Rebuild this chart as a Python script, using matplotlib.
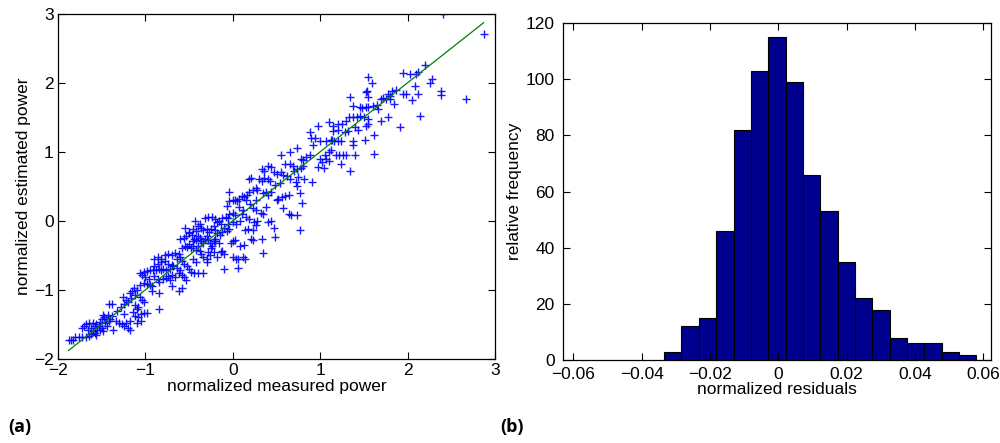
import numpy as np
import matplotlib
matplotlib.use("Agg")
import matplotlib.pyplot as plt

plt.rcParams['font.family'] = ['Liberation Sans', 'DejaVu Sans']

# (a) scatter: normalized measured vs estimated power
scatter_pts = [
    (-1.87, -1.72), (-1.85, -1.72), (-1.83, -1.72), (-1.80, -1.68), (-1.76, -1.68), (-1.72, -1.68),
    (-1.68, -1.68), (-1.65, -1.67), (-1.62, -1.64), (-1.60, -1.60), (-1.58, -1.62), (-1.56, -1.65),
    (-1.55, -1.58), (-1.52, -1.58), (-1.50, -1.55), (-1.48, -1.60), (-1.53, -1.52), (-1.56, -1.50),
    (-1.60, -1.48), (-1.64, -1.48), (-1.68, -1.50), (-1.70, -1.52), (-1.72, -1.55), (-1.66, -1.58),
    (-1.62, -1.55), (-1.58, -1.53), (-1.46, -1.48), (-1.44, -1.52), (-1.42, -1.45), (-1.45, -1.42),
    (-1.47, -1.40), (-1.50, -1.43), (-1.52, -1.46), (-1.48, -1.36), (-1.43, -1.36), (-1.40, -1.42),
    (-1.38, -1.38), (-1.34, -1.45), (-1.30, -1.48), (-1.37, -1.58), (-1.42, -1.21), (-1.38, -1.21),
    (-1.32, -1.30), (-1.28, -1.25), (-1.25, -1.35), (-1.24, -1.20), (-1.22, -1.15), (-1.20, -1.18),
    (-1.26, -1.10), (-1.18, -1.05), (-1.15, -1.02), (-1.13, -0.98), (-1.10, -1.00), (-1.12, -1.08),
    (-1.16, -1.12), (-1.12, -1.22), (-1.10, -1.28), (-1.08, -1.25), (-1.14, -1.32), (-1.12, -1.38),
    (-1.08, -1.40), (-1.05, -1.35), (-1.02, -1.33), (-0.98, -1.33), (-1.05, -1.45), (-1.10, -1.48),
    (-1.18, -1.45), (-1.22, -1.48), (-1.24, -1.52), (-1.20, -1.55), (-1.18, -1.58), (-1.27, -1.50),
    (-1.04, -1.15), (-1.06, -1.10), (-1.02, -1.18),
    (-1.06, -0.93), (-1.02, -0.90), (-0.98, -0.92), (-0.95, -0.93), (-0.92, -0.95), (-0.92, -1.02),
    (-0.85, -1.05), (-0.96, -0.85), (-1.00, -0.82), (-1.04, -0.78), (-1.06, -0.75), (-1.02, -0.74),
    (-0.98, -0.73), (-0.95, -0.72), (-0.91, -0.72), (-0.88, -0.71), (-0.85, -0.70), (-0.82, -0.72),
    (-0.80, -0.70), (-0.90, -0.80), (-0.86, -0.84), (-0.84, -0.88), (-0.80, -0.85), (-0.76, -0.83),
    (-0.74, -0.80), (-0.70, -0.78), (-0.72, -0.86), (-0.66, -0.82), (-0.62, -0.75), (-0.60, -0.72),
    (-0.58, -0.78), (-0.56, -0.82), (-0.54, -0.86), (-0.58, -0.98), (-0.62, -1.02), (-0.70, -0.95),
    (-0.84, -1.28), (-0.90, -0.65), (-0.86, -0.62), (-0.82, -0.60), (-0.78, -0.58), (-0.74, -0.62),
    (-0.70, -0.64), (-0.68, -0.66), (-0.64, -0.68), (-0.72, -0.70), (-0.76, -0.72), (-0.90, -0.55),
    (-0.86, -0.52), (-0.82, -0.55), (-0.78, -0.50), (-0.74, -0.48), (-0.70, -0.50), (-0.66, -0.46),
    (-0.62, -0.48), (-0.60, -0.52), (-0.64, -0.55), (-0.58, -0.58), (-0.56, -0.62), (-0.52, -0.66),
    (-0.50, -0.70), (-0.48, -0.74), (-0.44, -0.76), (-0.40, -0.75), (-0.34, -0.75), (-0.42, -0.60),
    (-0.46, -0.55),
    (-0.58, -0.40), (-0.55, -0.36), (-0.52, -0.38), (-0.50, -0.34), (-0.48, -0.40), (-0.45, -0.36),
    (-0.42, -0.42), (-0.40, -0.36), (-0.38, -0.44), (-0.36, -0.48), (-0.34, -0.52), (-0.30, -0.55),
    (-0.26, -0.50), (-0.30, -0.60), (-0.60, -0.27), (-0.56, -0.25), (-0.54, -0.22), (-0.50, -0.18),
    (-0.47, -0.20), (-0.44, -0.26), (-0.46, -0.30), (-0.42, -0.28), (-0.40, -0.22), (-0.38, -0.25),
    (-0.36, -0.30), (-0.34, -0.32), (-0.32, -0.26), (-0.30, -0.22), (-0.28, -0.28), (-0.26, -0.32),
    (-0.24, -0.36), (-0.22, -0.30), (-0.20, -0.26), (-0.55, -0.10), (-0.50, -0.16), (-0.45, -0.12),
    (-0.42, -0.15), (-0.40, -0.08), (-0.38, -0.05), (-0.36, -0.10), (-0.34, -0.14), (-0.30, -0.12),
    (-0.27, -0.16), (-0.25, -0.12), (-0.22, -0.08), (-0.20, -0.14), (-0.18, -0.18), (-0.15, -0.20),
    (-0.12, -0.16), (-0.10, -0.10), (-0.43, 0.00), (-0.32, 0.04), (-0.28, 0.05), (-0.24, 0.06),
    (-0.20, 0.02), (-0.18, -0.02), (-0.16, 0.00), (-0.14, -0.05), (-0.12, 0.04), (-0.08, 0.05),
    (-0.05, 0.04), (-0.20, -0.30), (-0.16, -0.32), (-0.14, -0.45), (-0.12, -0.44), (-0.10, -0.48),
    (-0.18, -0.52), (-0.10, -0.70), (-0.05, -0.05), (-0.04, -0.12), (-0.07, -0.15), (-0.25, -0.40),
    (-0.22, -0.45), (-0.28, -0.45),
    (-0.04, 0.28), (0.00, 0.30), (0.02, 0.30), (0.05, 0.28), (-0.04, 0.42), (0.07, 0.20),
    (-0.07, 0.22), (-0.04, 0.10), (0.00, 0.12), (0.03, 0.08), (0.10, 0.10), (0.12, 0.15),
    (0.15, 0.05), (0.18, 0.02), (0.00, -0.02), (0.04, -0.04), (0.08, -0.01), (0.14, -0.13),
    (0.17, -0.12), (0.23, -0.13), (0.26, -0.06), (0.28, 0.00), (0.24, -0.02), (0.21, -0.26),
    (0.23, -0.28), (0.33, -0.26), (0.13, -0.35), (0.08, -0.37), (0.00, -0.30), (0.02, -0.28),
    (-0.02, -0.32), (0.00, -0.53), (0.04, -0.55), (0.06, -0.56), (0.14, -0.55), (0.12, -0.52),
    (0.06, -0.69), (0.35, -0.46), (0.40, -0.02), (0.44, 0.00), (0.47, -0.10), (0.48, -0.24),
    (0.34, 0.10), (0.32, 0.12), (0.38, 0.20), (0.23, 0.18), (0.27, 0.16), (0.15, 0.30),
    (0.13, 0.35), (0.16, 0.38), (0.07, 0.32), (0.10, 0.36), (0.18, 0.42), (0.20, 0.25),
    (0.27, 0.30),
    (0.28, 0.45), (0.23, 0.45), (0.26, 0.48), (0.35, 0.40), (0.38, 0.42), (0.40, 0.38),
    (0.44, 0.42), (0.30, 0.60), (0.33, 0.58), (0.36, 0.62), (0.40, 0.60), (0.42, 0.58),
    (0.19, 0.60), (0.21, 0.62), (0.33, 0.75), (0.36, 0.72), (0.40, 0.80), (0.44, 0.78),
    (0.47, 0.70), (0.50, 0.68), (0.55, 0.70), (0.58, 0.66), (0.62, 0.65), (0.65, 0.60),
    (0.50, 0.30), (0.52, 0.32), (0.56, 0.35), (0.60, 0.36), (0.64, 0.38), (0.58, 0.18),
    (0.64, 0.10), (0.67, 0.08), (0.73, 0.09), (0.79, 0.26), (0.77, 0.40), (0.74, 0.50),
    (0.72, 0.56), (0.75, 0.63), (0.70, 0.72), (0.73, 0.75), (0.78, 0.77), (0.80, 0.80),
    (0.82, 0.60), (0.69, 0.80), (0.66, 0.82), (0.60, 0.83), (0.65, 1.00), (0.73, 1.06),
    (0.55, 0.95), (0.78, 0.90), (0.80, 0.88), (0.84, 0.92), (0.88, 0.95), (0.91, 0.56),
    (0.48, 0.52), (0.54, 0.55), (0.77, -0.14),
    (0.90, 1.20), (0.88, 1.28), (0.92, 1.10), (0.94, 1.20), (0.97, 1.38), (1.00, 1.15),
    (1.00, 0.90), (1.02, 0.85), (0.98, 0.78), (1.04, 0.76), (1.05, 0.95), (1.07, 0.90),
    (1.10, 0.86), (1.10, 1.00), (1.12, 1.03), (1.07, 1.16), (1.12, 1.17), (1.16, 1.16),
    (1.20, 1.16), (1.24, 1.16), (1.13, 1.17), (1.18, 0.95), (1.22, 0.95), (1.26, 0.95),
    (1.30, 0.95), (1.40, 0.95), (1.24, 0.82), (1.34, 0.72), (1.37, 1.15), (1.38, 1.10),
    (1.15, 1.30), (1.20, 1.32), (1.25, 1.40), (1.20, 1.40), (1.15, 1.38), (1.10, 1.43),
    (1.28, 1.28), (1.32, 1.30), (1.30, 1.44), (1.33, 1.50), (1.38, 1.50), (1.42, 1.50),
    (1.46, 1.52), (1.50, 1.50), (1.55, 1.48), (1.40, 1.36), (1.43, 1.32), (1.52, 1.38),
    (1.55, 1.40), (1.51, 1.17), (1.62, 1.25), (1.62, 0.97),
    (1.34, 1.79), (1.38, 1.66), (1.45, 1.65), (1.48, 1.64), (1.52, 1.65), (1.55, 1.65),
    (1.60, 1.66), (1.55, 2.08), (1.59, 2.00), (1.54, 1.88), (1.52, 1.86), (1.55, 1.80),
    (1.65, 1.68), (1.66, 1.62), (1.70, 1.76), (1.72, 1.78), (1.75, 1.77), (1.80, 1.81),
    (1.78, 1.83), (1.80, 1.76), (1.85, 1.69), (1.78, 1.50), (1.70, 1.44), (1.87, 1.89),
    (1.82, 1.88), (1.91, 1.36), (1.95, 2.14), (1.95, 1.84), (1.98, 1.84), (2.03, 2.12),
    (2.08, 1.95), (2.10, 2.13), (2.12, 2.15), (2.12, 1.84), (2.05, 1.75), (2.14, 1.52),
    (2.20, 2.26), (2.26, 2.00), (2.28, 2.05), (2.38, 1.88), (2.38, 1.82), (2.41, 2.99),
    (2.67, 1.76), (2.87, 2.70),
]
measured = [p[0] for p in scatter_pts]
estimated = [p[1] for p in scatter_pts]

fit_x = [-1.88, 2.87]
fit_y = [-1.88, 2.87]

# (b) histogram of normalized residuals
bin_first_edge = -0.0334
bin_width = 0.00508
counts = [3, 12, 15, 46, 82, 103, 115, 99, 66, 53, 35, 22, 18, 8, 6, 6, 3, 2]
bin_left = bin_first_edge + bin_width * np.arange(len(counts))

fig = plt.figure(figsize=(10, 4.43), dpi=100)

ax1 = fig.add_axes([0.058, 0.19, 0.437, 0.779])
ax1.plot(measured, estimated, '+', color='#0000ff', markersize=6, mew=1.0, alpha=0.9)
ax1.plot(fit_x, fit_y, '-', color='#008000', lw=0.9)
ax1.set_xlim(-2, 3)
ax1.set_ylim(-2, 3)
ax1.set_xlabel('normalized measured power', fontsize=12.5, labelpad=1)
ax1.set_ylabel('normalized estimated power', fontsize=12.5, labelpad=2)

ax2 = fig.add_axes([0.563, 0.187, 0.428, 0.761])
ax2.bar(bin_left, counts, width=bin_width, align='edge',
        color='#00008f', edgecolor='black', linewidth=0.8)
ax2.set_xlim(-0.063, 0.0623)
ax2.set_ylim(0, 120)
ax2.set_xticks([-0.06, -0.04, -0.02, 0, 0.02, 0.04, 0.06])
ax2.set_xticklabels(['\u22120.06', '\u22120.04', '\u22120.02', '0', '0.02', '0.04', '0.06'])
ax2.set_yticks([0, 20, 40, 60, 80, 100, 120])
ax2.set_xlabel('normalized residuals', fontsize=12.5, labelpad=0)
ax2.set_ylabel('relative frequency', fontsize=12.5, labelpad=3)

for ax in (ax1, ax2):
    ax.tick_params(direction='in', top=True, right=True, length=5, width=0.8,
                   labelsize=12.5, pad=3)
    for s in ax.spines.values():
        s.set_linewidth(0.9)
ax2.tick_params(axis='y', pad=6)
ax2.tick_params(axis='x', pad=5)

fig.text(0.008, 0.025, '(a)', fontsize=13, fontweight='bold', family=['Open Sans', 'DejaVu Sans'])
fig.text(0.500, 0.025, '(b)', fontsize=13, fontweight='bold', family=['Open Sans', 'DejaVu Sans'])

fig.savefig('out.png', dpi=100)
